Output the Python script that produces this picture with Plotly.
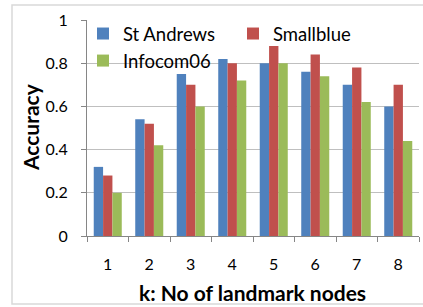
import plotly.graph_objects as go

categories = ["1", "2", "3", "4", "5", "6", "7", "8"]
st_andrews = [0.32, 0.54, 0.75, 0.82, 0.80, 0.76, 0.70, 0.60]
smallblue = [0.28, 0.52, 0.70, 0.80, 0.88, 0.84, 0.78, 0.70]
infocom06 = [0.20, 0.42, 0.60, 0.72, 0.80, 0.74, 0.62, 0.44]
y_ticks = [0, 0.2, 0.4, 0.6, 0.8, 1]
y_tick_labels = ["0", "0.2", "0.4", "0.6", "0.8", "1"]

FONT = "Lato"
fig = go.Figure()
for name, vals, col in [("St Andrews", st_andrews, "#4F81BD"),
                        ("Smallblue", smallblue, "#C0504D"),
                        ("Infocom06", infocom06, "#9BBB59")]:
    fig.add_trace(go.Bar(x=categories, y=vals, name=name,
                         marker=dict(color=col, line=dict(width=0))))

L, R, T, B = 87, 4, 20, 71
W, H = 423, 307
pw, ph = W - L - R, H - T - B

def px_x(x):
    return (x - L) / pw

def px_y(y):
    return (H - B - y) / ph

fig.update_layout(
    width=W, height=H,
    margin=dict(l=L, r=R, t=T, b=B, autoexpand=False),
    paper_bgcolor="white", plot_bgcolor="white",
    barmode="group", bargap=0.325, bargroupgap=0,
    font=dict(family=FONT, size=16, color="#000000"),
    showlegend=True,
    legend=dict(orientation="h", x=px_x(83), xanchor="left",
                y=px_y(15), yanchor="top", entrywidth=105, entrywidthmode="pixels",
                itemwidth=30, font=dict(size=18.5, family=FONT),
                bgcolor="rgba(255,255,255,0)", tracegroupgap=0),
    xaxis=dict(type="category", showline=True, linecolor="#868686", linewidth=1,
               ticks="outside", ticklen=5, tickcolor="#868686", tickson="boundaries",
               showgrid=False, ticklabelstandoff=14, automargin=False,
               tickfont=dict(size=16, family=FONT)),
    yaxis=dict(range=[0, 1], tickvals=y_ticks, ticktext=y_tick_labels,
               showline=True, linecolor="#868686", linewidth=1,
               ticks="outside", ticklen=5, tickcolor="#868686", automargin=False,
               showgrid=True, gridcolor="#BFBFBF", gridwidth=1, zeroline=False,
               ticklabelstandoff=10, tickfont=dict(size=16, family=FONT)),
)

fig.add_annotation(text="<b>k: No of landmark nodes</b>", xref="paper", yref="paper",
                   x=px_x(252), y=px_y(292), showarrow=False,
                   font=dict(size=21, family=FONT), xanchor="center", yanchor="middle")
fig.add_annotation(text="<b>Accuracy</b>", xref="paper", yref="paper",
                   x=px_x(30), y=px_y(127), showarrow=False, textangle=-90,
                   font=dict(size=21, family=FONT), xanchor="center", yanchor="middle")

# outer chart border
fig.add_shape(type="rect", xref="paper", yref="paper",
              x0=px_x(12), x1=px_x(424),
              y0=px_y(304), y1=px_y(5),
              line=dict(color="#D9D9D9", width=1.5), fillcolor="rgba(0,0,0,0)",
              layer="below")

fig.write_html("out.html", config={"displayModeBar": False},
               post_script="document.body.style.margin='0';")
